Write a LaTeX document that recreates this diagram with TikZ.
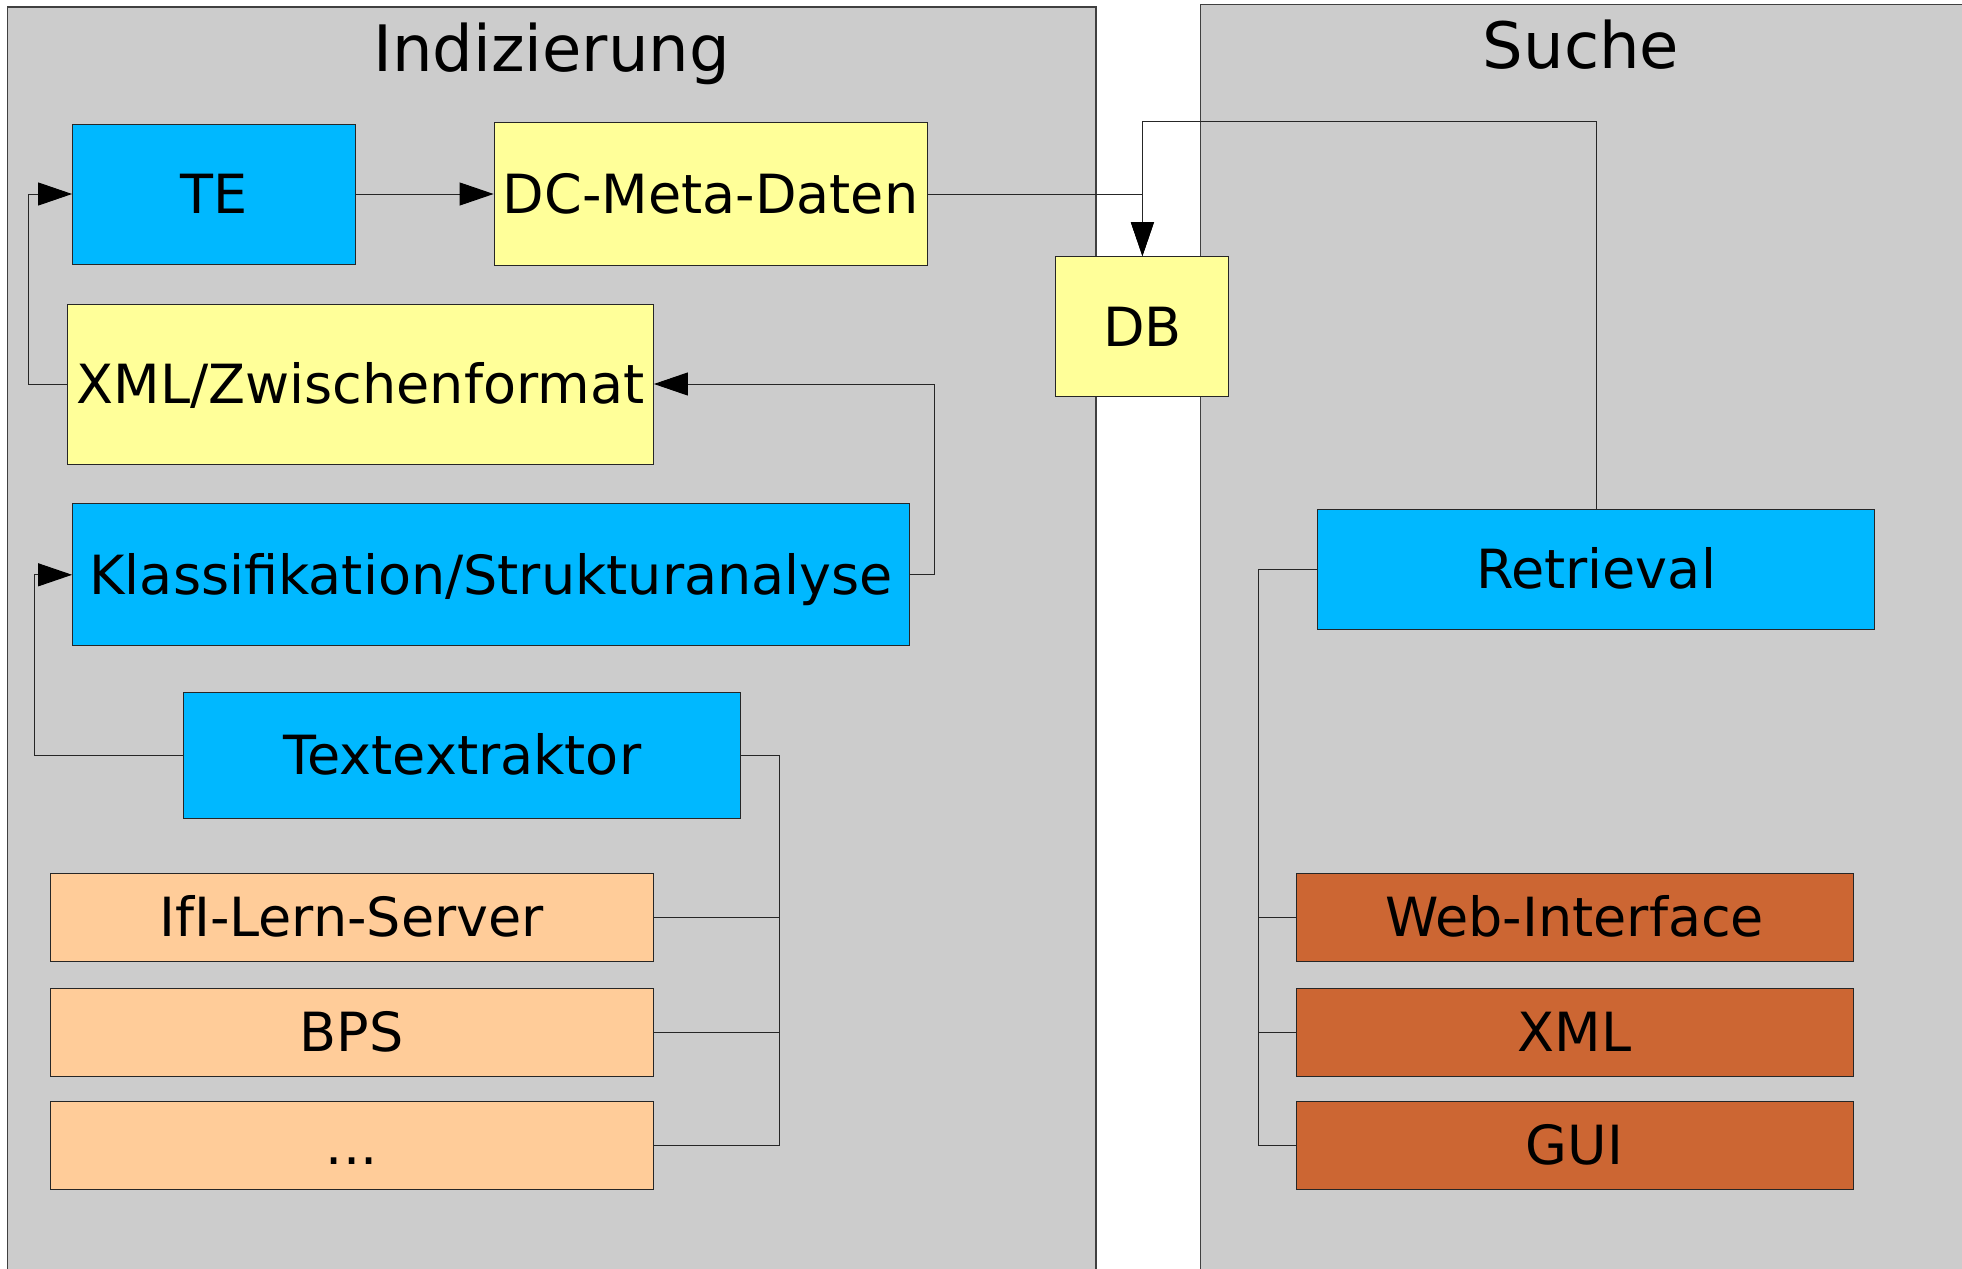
\documentclass[tikz,border=0pt]{standalone}
\usepackage{fontspec}
\setmainfont{DejaVu Sans}
\usepackage{tikz}
\usetikzlibrary{arrows.meta}
\definecolor{panelgray}{HTML}{CCCCCC}
\definecolor{boxblue}{HTML}{00B8FF}
\definecolor{boxyellow}{HTML}{FFFF99}
\definecolor{boxpeach}{HTML}{FFCC99}
\definecolor{boxrust}{HTML}{CC6633}
\tikzstyle{panel} = [draw=black!75, line width=0.6pt, fill=panelgray]
\tikzstyle{ptitle} = [font=\fontsize{32}{36}\selectfont, text height=23.3pt, text depth=0pt]
\tikzstyle{box} = [draw=black!85, line width=0.5pt, inner sep=0pt, font=\fontsize{27}{30}\selectfont, text height=19.7pt, text depth=0pt]
\tikzstyle{es} = [-{Triangle[length=17pt,width=11.5pt,color=black]}]
\tikzstyle{wire} = [draw=black!85, line width=0.5pt]

\begin{document}
\begin{tikzpicture}[yscale=-1]
			\useasboundingbox (0pt,0pt) rectangle (981pt,634pt);
			\fill[white] (0pt,0pt) rectangle (981pt,634pt);
			% the two panels
			\draw[panel] (3.6pt,3.5pt) rectangle (548pt,640pt);
			\draw[panel] (600.3pt,2.2pt) rectangle (990pt,640pt);
			\node[ptitle] (tidx) at (275.8pt,24.2pt){Indizierung};
			\node[ptitle] (tsuche) at (790.5pt,22.8pt){Suche};
			% Indizierung
			\node[box,fill=boxblue,minimum width=141.4pt,minimum height=70pt] (te) at (107pt,97pt){TE};
			\node[box,fill=boxyellow,minimum width=216.5pt,minimum height=71.2pt] (dc) at (355.3pt,97pt){DC-Meta-Daten};
			\node[box,fill=boxyellow,minimum width=293pt,minimum height=80pt] (xmlz) at (180.2pt,192pt){XML/Zwischenformat};
			\node[box,fill=boxblue,minimum width=418.6pt,minimum height=70.9pt] (klass) at (245.6pt,287.4pt){Klassifikation/Strukturanalyse};
			\node[box,fill=boxblue,minimum width=278.5pt,minimum height=63pt] (text) at (231.2pt,377.5pt){Textextraktor};
			\node[box,fill=boxpeach,minimum width=301.5pt,minimum height=44pt] (ifi) at (175.8pt,458.5pt){IfI-Lern-Server};
			\node[box,fill=boxpeach,minimum width=301.5pt,minimum height=44pt] (bps) at (175.8pt,516.1pt){BPS};
			\node[box,fill=boxpeach,minimum width=301.5pt,minimum height=44pt] (dots) at (175.8pt,572.5pt){...};
			% DB between the panels
			\node[box,fill=boxyellow,minimum width=86.5pt,minimum height=70pt] (db) at (571.2pt,163.3pt){DB};
			% Suche
			\node[box,fill=boxblue,minimum width=278.4pt,minimum height=60.2pt] (retr) at (798pt,284.6pt){Retrieval};
			\node[box,fill=boxrust,minimum width=278.5pt,minimum height=44pt] (web) at (787.3pt,458.5pt){Web-Interface};
			\node[box,fill=boxrust,minimum width=278.5pt,minimum height=44pt] (xmlo) at (787.3pt,516.1pt){XML};
			\node[box,fill=boxrust,minimum width=278.5pt,minimum height=44pt] (gui) at (787.3pt,572.5pt){GUI};
			% connectors
			\coordinate (srcbus) at (389.8pt,0pt);
			\coordinate (rbus) at (629.4pt,0pt);
			\coordinate (rtop) at (0pt,60.7pt);
			\draw[wire,es] (te.east) -- (dc.west);
			\draw[wire,es] (xmlz.west) -- ++(-19pt,0pt) |- (te.west);
			\draw[wire,es] (klass.east) -- ++(12pt,0pt) |- (xmlz.east);
			\draw[wire,es] (text.west) -- ++(-74.5pt,0pt) |- (klass.west);
			\draw[wire] (text.east) -| (srcbus |- dots.east) -- (dots.east);
			\draw[wire] (ifi.east) -- (ifi.east -| srcbus);
			\draw[wire] (bps.east) -- (bps.east -| srcbus);
			\draw[wire,es] (dc.east) -| (db.north);
			\draw[wire,es] (retr.north) -- (retr.north |- rtop) -| (db.north);
			\draw[wire] (retr.west) -| (rbus |- gui.west) -- (gui.west);
			\draw[wire] (web.west) -- (web.west -| rbus);
			\draw[wire] (xmlo.west) -- (xmlo.west -| rbus);
		\end{tikzpicture}
\end{document}
